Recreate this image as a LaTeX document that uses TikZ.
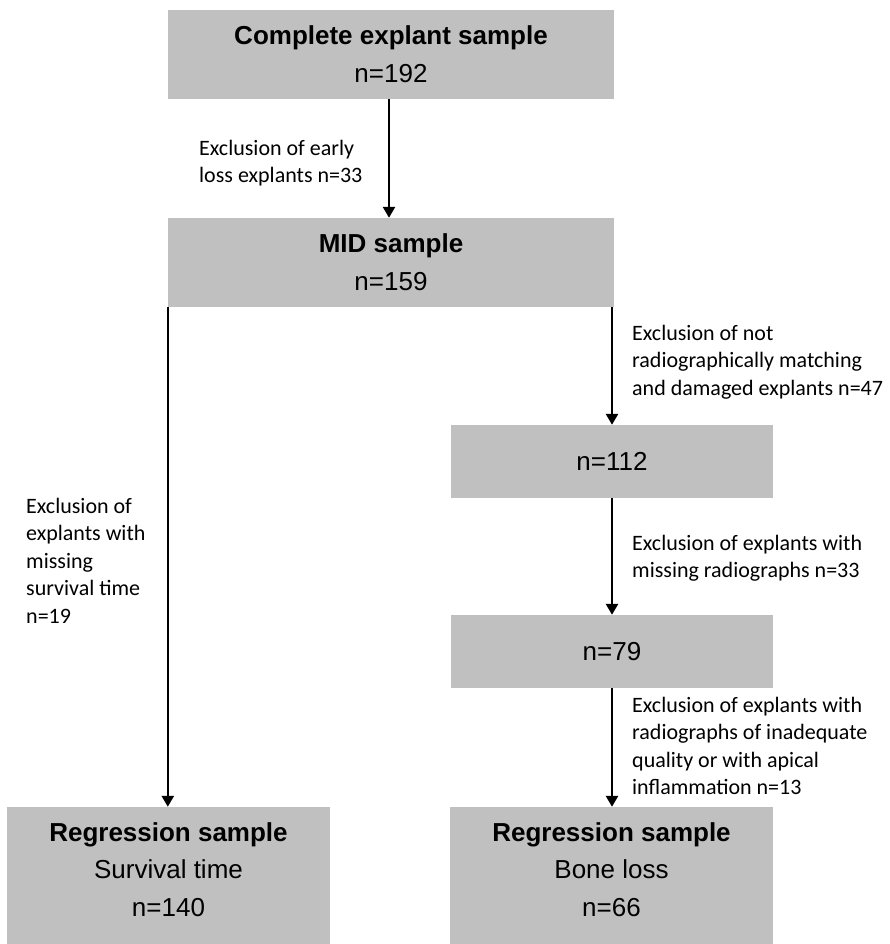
\documentclass[tikz,border=0pt]{standalone}
\usepackage{fontspec}
\setmainfont{Liberation Sans}
\newfontfamily\labelfont{Carlito}
\usetikzlibrary{arrows.meta}
\definecolor{boxgray}{RGB}{192,192,192}
\begin{document}
\begin{tikzpicture}[x=1pt,y=-1pt,
  box/.style={fill=boxgray, draw=none, inner sep=0pt, align=center,
    font=\fontsize{26}{38}\selectfont},
  boxtext/.style={inner sep=0pt, align=center, font=\fontsize{26}{37.5}\selectfont},
  note/.style={inner sep=0pt, align=left, anchor=base west,
    font=\labelfont\fontsize{22}{27.5}\selectfont},
  flow/.style={line width=2.6pt, -{Triangle[width=12pt,length=11pt]}}]
\useasboundingbox (0,0) rectangle (890,944);

% boxes
\node[box, minimum width=446pt, minimum height=89pt] (top) at (391,54.5)
  {\textbf{Complete explant sample}\\n=192};
\node[box, minimum width=446pt, minimum height=89pt] (mid) at (391,262.5)
  {\textbf{MID sample}\\n=159};
\node[box, minimum width=322pt, minimum height=73pt] (n112) at (612,461.5) {n=112};
\node[box, minimum width=322pt, minimum height=73pt] (n79) at (612,651.5) {n=79};
\node[box, minimum width=323pt, minimum height=137pt] (bl) at (168.5,875.5) {};
\node[box, minimum width=323pt, minimum height=137pt] (br) at (611.5,875.5) {};
\node[boxtext] (bltext) at (168.5,869.5)
  {\textbf{Regression sample}\\Survival time\\n=140};
\node[boxtext] (brtext) at (611.5,869.5)
  {\textbf{Regression sample}\\Bone loss\\n=66};

% connectors
\draw[flow] ([xshift=-2pt]top.south) -- ([xshift=-2pt]mid.north);
\draw[flow] (mid.south west) -- (mid.south west |- bl.north);
\draw[flow] (n112.north |- mid.south) -- (n112.north);
\draw[flow] (n112.south) -- (n79.north);
\draw[flow] (n79.south) -- (n79.south |- br.north);

% labels (anchor = baseline of the last line)
\node[note] (l1) at (199,182.5) {Exclusion of early\\loss explants n=33};
\node[note] (l2) at (26,623) {Exclusion of\\explants with\\missing\\survival time\\n=19};
\node[note] (l3) at (632,395) {Exclusion of not\\radiographically matching\\and damaged explants n=47};
\node[note] (l4) at (632,577.5) {Exclusion of explants with\\missing radiographs n=33};
\node[note] (l5) at (632,794.5) {Exclusion of explants with\\radiographs of inadequate\\quality or with apical\\inflammation n=13};
\end{tikzpicture}
\end{document}
